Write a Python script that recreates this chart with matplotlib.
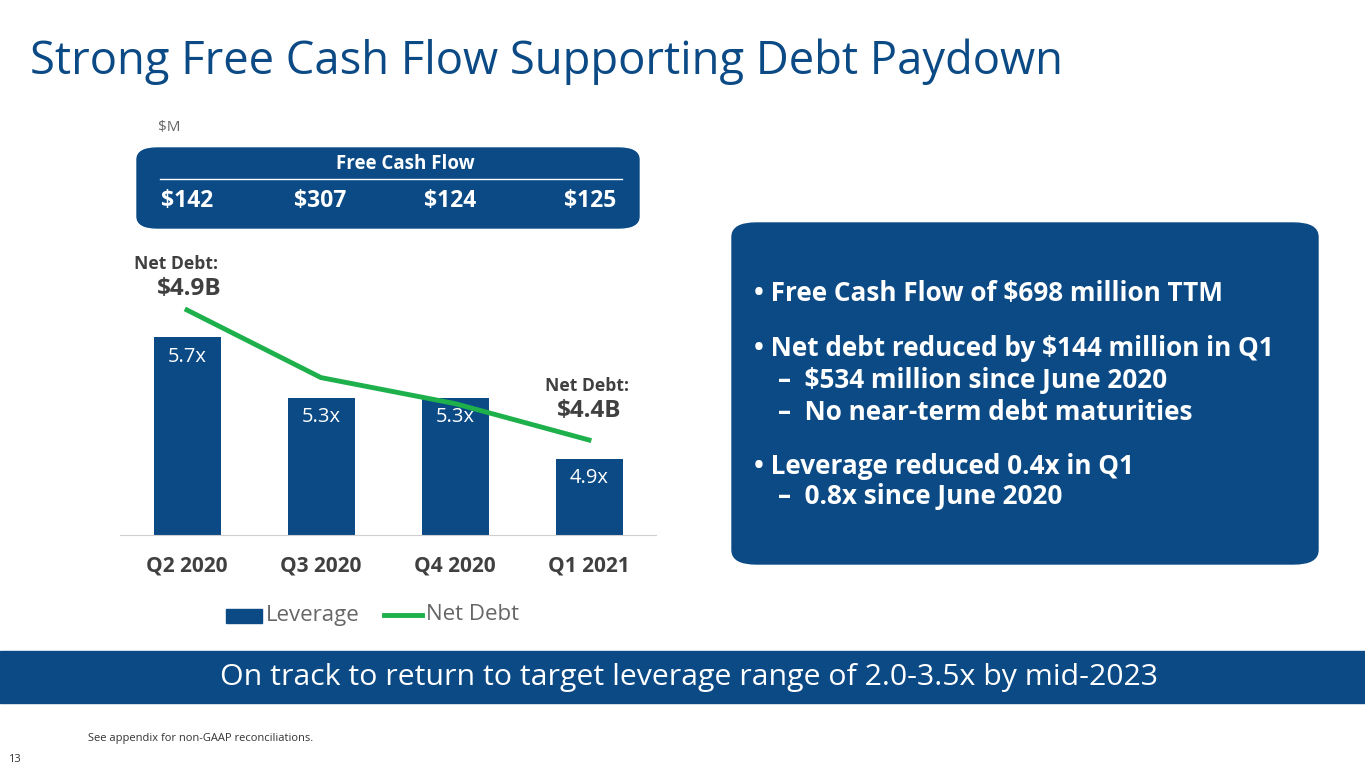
import matplotlib.pyplot as plt
from matplotlib.patches import FancyBboxPatch, Rectangle

quarters = ['Q2 2020', 'Q3 2020', 'Q4 2020', 'Q1 2021']
leverage = [5.7, 5.3, 5.3, 4.9]
net_debt = [4.9, 4.64, 4.54, 4.4]
fcf = ['$142', '$307', '$124', '$125']

NAVY = '#0B4A85'
GREEN = '#1DB04B'
W, H = 1365, 768
plt.rcParams['font.family'] = ['Open Sans', 'DejaVu Sans']

fig = plt.figure(figsize=(13.65, 7.68), dpi=100)

def px(x, y):
    return x / W, 1 - y / H

# title
fig.text(*px(30, 62), 'Strong Free Cash Flow Supporting Debt Paydown', fontsize=32.7, color=NAVY, va='center')
fig.text(*px(158, 127), '$M', fontsize=11, color='#666666', va='center')

# chart axes
ax = fig.add_axes([120 / W, 1 - 535 / H, 536 / W, 255 / H])
x = range(len(quarters))
ax.bar(x, [v - 4.4 for v in leverage], bottom=4.4, width=0.5, color=NAVY, label='Leverage')
ax.set_xlim(-0.5, 3.5)
ax.set_ylim(4.4, 4.4 + 255 / 152)
for i, v in enumerate(leverage):
    ax.text(i, v - 0.06, f'{v}x', color='white', fontsize=14.5, ha='center', va='top')
ax2 = ax.twinx()
ax2.plot(x, net_debt, color=GREEN, lw=3.5, label='Net Debt')
ax2.set_ylim(4.4 - 95 / 260, 4.4 - 95 / 260 + 255 / 260)
for a in (ax, ax2):
    for s in a.spines.values():
        s.set_visible(False)
    a.set_yticks([])
ax.spines['bottom'].set_visible(True)
ax.spines['bottom'].set_color('#D0D0D0')
ax.set_xticks(list(x))
ax.set_xticklabels(quarters, fontsize=15, fontweight='bold', color='#404040')
ax.tick_params(axis='x', length=0, pad=15)

fig.text(*px(134, 264), 'Net Debt:', fontsize=12.6, fontweight='bold', color='#404040', va='center')
fig.text(*px(157, 289), '$4.9B', fontsize=17.5, fontweight='bold', color='#404040', va='center')
fig.text(*px(545, 386), 'Net Debt:', fontsize=12.6, fontweight='bold', color='#404040', va='center')
fig.text(*px(557, 411), '$4.4B', fontsize=17.5, fontweight='bold', color='#404040', va='center')

# legend
fig.patches.append(Rectangle(px(226, 623), 36 / W, 14 / H, transform=fig.transFigure, color=NAVY))
fig.text(*px(266, 615), 'Leverage', fontsize=16, color='#666666', va='center')
fig.lines.append(plt.Line2D([384 / W, 422 / W], [1 - 615 / H] * 2, transform=fig.transFigure, color=GREEN, lw=3.5))
fig.text(*px(426, 615), 'Net Debt', fontsize=16, color='#666666', va='center')

# FCF box
fig.patches.append(FancyBboxPatch(px(137, 228), 502 / W, 80 / H, transform=fig.transFigure,
                                  boxstyle='round,pad=0,rounding_size=0.015', color=NAVY))
fig.text(*px(405, 164), 'Free Cash Flow', fontsize=13.5, fontweight='bold', color='white', ha='center', va='center')
fig.lines.append(plt.Line2D([160 / W, 622 / W], [1 - 179 / H] * 2, transform=fig.transFigure, color='white', lw=1))
for xp, t, ha in zip([161, 294, 424, 616], fcf, ['left', 'left', 'left', 'right']):
    fig.text(*px(xp, 201), t, fontsize=16.5, fontweight='bold', color='white', ha=ha, va='center')

# bullet box
fig.patches.append(FancyBboxPatch(px(732, 564), 586 / W, 341 / H, transform=fig.transFigure,
                                  boxstyle='round,pad=0,rounding_size=0.018', color=NAVY))
lines = [(754, 294, '• Free Cash Flow of $698 million TTM'),
         (754, 348, '• Net debt reduced by $144 million in Q1'),
         (778, 380, '–  $534 million since June 2020'),
         (778, 412, '–  No near-term debt maturities'),
         (754, 466, '• Leverage reduced 0.4x in Q1'),
         (778, 497, '–  0.8x since June 2020')]
for xp, yp, t in lines:
    fig.text(*px(xp, yp), t, fontsize=18.8, fontweight='bold', color='white', va='center')

# banner
fig.patches.append(Rectangle(px(0, 703), 1, 52 / H, transform=fig.transFigure, color=NAVY))
fig.text(*px(689, 677), 'On track to return to target leverage range of 2.0-3.5x by mid-2023',
         fontsize=21.8, color='white', ha='center', va='center')

fig.text(*px(88, 738), 'See appendix for non-GAAP reconciliations.', fontsize=8, color='#333333', va='center')
fig.text(*px(8, 759), '13', fontsize=8, color='#333333', va='center')

fig.savefig('out.png', dpi=100)
